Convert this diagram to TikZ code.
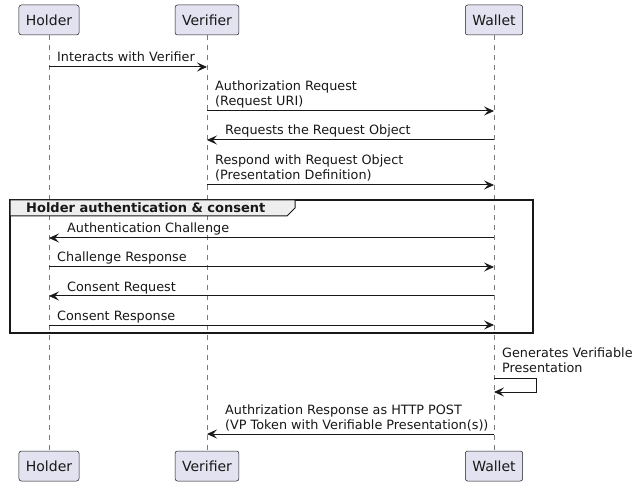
\documentclass[tikz,border=0pt]{standalone}
\usepackage{fontspec}
\setmainfont{DejaVu Sans}
\usetikzlibrary{arrows.meta}
\definecolor{partfill}{HTML}{E2E2F0}
\definecolor{partline}{HTML}{181818}
\definecolor{lifegray}{HTML}{7A7A7A}
\definecolor{grpfill}{HTML}{EEEEEE}
\begin{document}
\begin{tikzpicture}[x=1pt,y=-1pt,
  part/.style={draw=partline, fill=partfill, rounded corners=2.5pt, line width=0.5pt,
    minimum height=30pt, inner xsep=7pt, inner ysep=0pt, font=\fontsize{14}{16}\selectfont, text=partline},
  life/.style={draw=lifegray, line width=0.5pt, dash pattern=on 5pt off 5pt},
  msg/.style={draw=partline, line width=1pt, -{Stealth[length=10pt,width=9pt,inset=4pt,line width=0.8pt,fill=partline]}},
  lbl/.style={anchor=base west, inner sep=0pt, align=left, font=\fontsize{12.8}{15}\selectfont, text=partline},
  grp/.style={draw=partline, line width=1.6pt},
  grphead/.style={draw=partline, line width=1pt, fill=grpfill},
  grplbl/.style={anchor=base west, inner sep=0pt, font=\bfseries\fontsize{13}{15}\selectfont, text=partline}
]
\useasboundingbox (0,0) rectangle (637,486);
\fill[white] (0,0) rectangle (637,486);

% participants
\node[part] (ht) at (49,20) {Holder};
\node[part] (vt) at (207,20) {Verifier};
\node[part] (wt) at (494,20) {Wallet};
\node[part] (hb) at (49,466) {Holder};
\node[part] (vb) at (207,466) {Verifier};
\node[part] (wb) at (494,466) {Wallet};

\draw[life] (ht.south) -- (hb.north);
\draw[life] (vt.south) -- (vb.north);
\draw[life] (wt.south) -- (wb.north);

% group
\draw[grp] (10,200) rectangle (533,333);
\draw[grphead] (10,200) -- (295,200) -- (295,208) -- (287,216) -- (10,216) -- cycle;
\node[grplbl] (gl) at (26,213) {Holder authentication \& consent};

% coordinates on lifelines
\coordinate (h1) at (49,67);   \coordinate (v1) at (207,67);
\coordinate (v2) at (207,111); \coordinate (w2) at (494,111);
\coordinate (w3) at (494,140); \coordinate (v3) at (207,140);
\coordinate (v4) at (207,185); \coordinate (w4) at (494,185);
\coordinate (w6) at (494,238); \coordinate (h6) at (49,238);
\coordinate (h7) at (49,267);  \coordinate (w7) at (494,267);
\coordinate (w8) at (494,296); \coordinate (h8) at (49,296);
\coordinate (h9) at (49,325);  \coordinate (w9) at (494,325);
\coordinate (wa) at (494,378); \coordinate (wb2) at (494,392);
\coordinate (w11) at (494,434); \coordinate (v11) at (207,434);

% messages
\draw[msg] (h1) -- (v1);
\node[lbl] (l1) at (57,62) {Interacts with Verifier};

\draw[msg] (v2) -- (w2);
\node[lbl] (l2) at (215,106) {Authorization Request\\(Request URI)};

\draw[msg] (w3) -- (v3);
\node[lbl] (l3) at (225,135) {Requests the Request Object};

\draw[msg] (v4) -- (w4);
\node[lbl] (l4) at (215,180) {Respond with Request Object\\(Presentation Definition)};

\draw[msg] (w6) -- (h6);
\node[lbl] (l6) at (67,233) {Authentication Challenge};

\draw[msg] (h7) -- (w7);
\node[lbl] (l7) at (57,262) {Challenge Response};

\draw[msg] (w8) -- (h8);
\node[lbl] (l8) at (67,291) {Consent Request};

\draw[msg] (h9) -- (w9);
\node[lbl] (l9) at (57,320) {Consent Response};

\draw[msg] (wa) -- ++(42,0) |- (wb2);
\node[lbl] (l10) at (502,372) {Generates Verifiable\\Presentation};

\draw[msg] (w11) -- (v11);
\node[lbl] (l11) at (225,429) {Authrization Response as HTTP POST\\(VP Token with Verifiable Presentation(s))};
\end{tikzpicture}
\end{document}
